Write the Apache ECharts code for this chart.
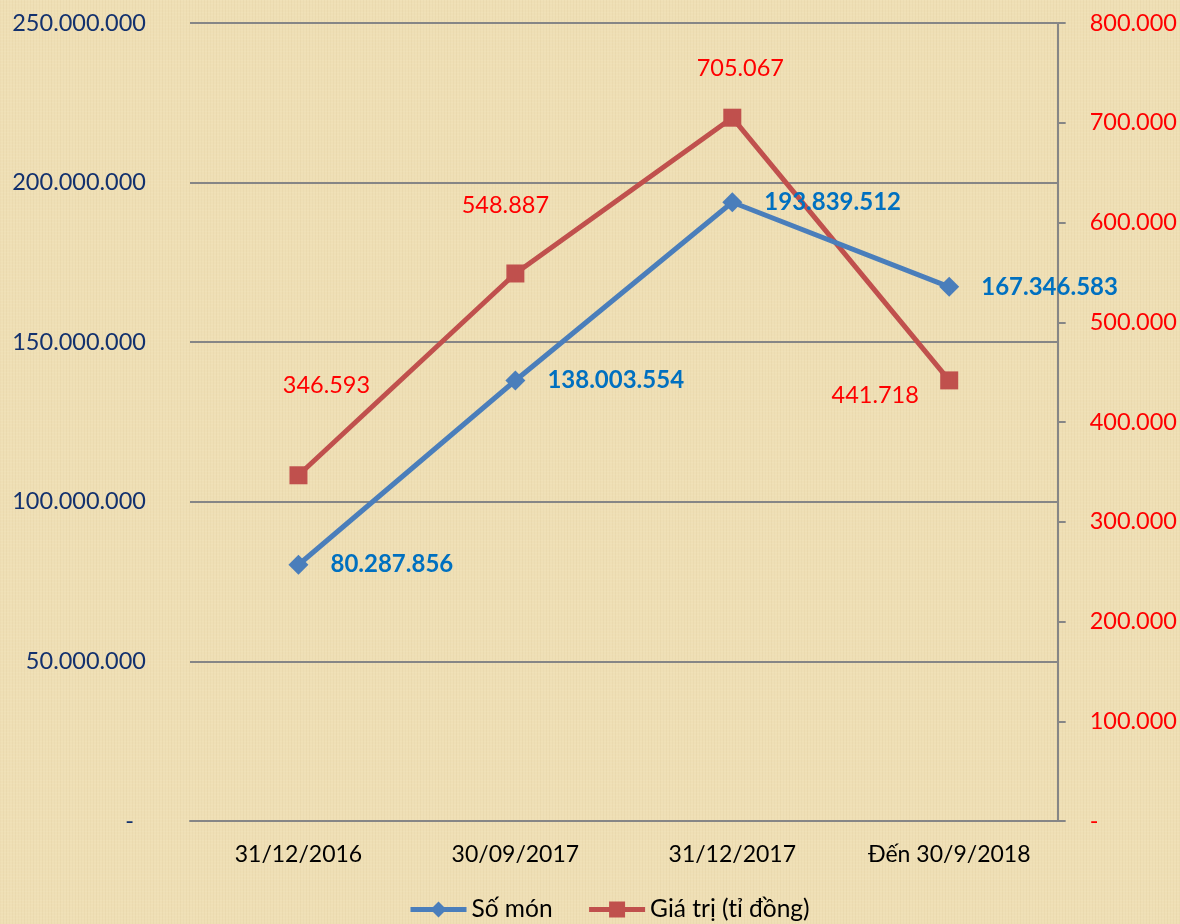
<!DOCTYPE html>
<html>
<head>
<meta charset="utf-8">
<script src="https://cdn.jsdelivr.net/npm/echarts@6/dist/echarts.min.js"></script>
<style>
  html, body { margin: 0; padding: 0; background: #efdfb5; }
  #chart { width: 1180px; height: 924px; }
</style>
</head>
<body>
<div id="chart"></div>
<script>
// data
const categories = ['31/12/2016', '30/09/2017', '31/12/2017', 'Đến 30/9/2018'];
const soMon = [80287856, 138003554, 193839512, 167346583];
const giaTri = [346593, 548887, 705067, 441718];
const seriesNames = ['Số món', 'Giá trị (tỉ đồng)'];

// dot thousands separator, zero shown as dash
const fmt = v => v === 0 ? '-' : String(Math.round(v)).replace(/\B(?=(\d{3})+(?!\d))/g, '.');

const FONT = 'Lato';
// red labels sit in odd places in the original, nudge each one
const redOffsets = [[28, -47], [-10, -25], [8, -6], [-74, 58]];

// faint papyrus-like weave, deterministic
function paperPattern() {
    const c = document.createElement('canvas');
    c.width = 120; c.height = 120;
    const g = c.getContext('2d');
    g.fillStyle = '#efdfb5';
    g.fillRect(0, 0, 120, 120);
    for (let i = 0; i < 120; i += 3) {
        const a = 0.05 + 0.04 * Math.abs(Math.sin(i * 0.7));
        g.fillStyle = 'rgba(190,165,110,' + a.toFixed(3) + ')';
        g.fillRect(i, 0, 1, 120);
        const b = 0.04 + 0.04 * Math.abs(Math.cos(i * 1.3));
        g.fillStyle = 'rgba(255,250,230,' + b.toFixed(3) + ')';
        g.fillRect(0, i, 120, 1);
    }
    return c;
}

const chart = echarts.init(document.getElementById('chart'));
chart.setOption({
    backgroundColor: { image: paperPattern(), repeat: 'repeat' },
    textStyle: { fontFamily: FONT },
    grid: { left: 190, right: 122, top: 23, bottom: 103 },
    legend: {
        bottom: -3,
        left: 403,
        itemWidth: 56,
        itemHeight: 20,
        itemGap: 34,
        lineStyle: { width: 5 },
        textStyle: { fontFamily: FONT, fontSize: 24.5, color: '#000' },
        data: seriesNames
    },
    xAxis: {
        type: 'category',
        data: categories,
        boundaryGap: true,
        axisLine: { lineStyle: { color: '#868686', width: 2 } },
        axisTick: { show: false },
        axisLabel: { fontFamily: FONT, fontSize: 23, color: '#000', margin: 22 }
    },
    yAxis: [
        {
            type: 'value',
            min: 0,
            max: 250000000,
            interval: 50000000,
            axisLine: { show: false },
            axisTick: { show: false },
            splitLine: { lineStyle: { color: '#868686', width: 2 } },
            axisLabel: {
                fontFamily: FONT, fontSize: 23.5, color: '#13316e', margin: 44,
                formatter: v => v === 0 ? '-  ' : fmt(v)
            }
        },
        {
            type: 'value',
            min: 0,
            max: 800000,
            interval: 100000,
            position: 'right',
            axisLine: { show: true, lineStyle: { color: '#868686', width: 2 } },
            axisTick: { show: true, inside: false, length: 8, lineStyle: { color: '#868686', width: 2 } },
            splitLine: { show: false },
            axisLabel: {
                fontFamily: FONT, fontSize: 23.5, color: '#ff0000', margin: 32,
                formatter: fmt
            }
        }
    ],
    series: [
        {
            name: seriesNames[0],
            type: 'line',
            yAxisIndex: 0,
            data: soMon,
            symbol: 'diamond',
            symbolSize: 20,
            color: '#4a7ebb',
            lineStyle: { width: 5, color: '#4a7ebb' },
            itemStyle: { color: '#4a7ebb' },
            label: {
                show: true,
                position: 'right',
                distance: 22,
                fontFamily: FONT,
                fontSize: 24,
                fontWeight: 'bold',
                color: '#0070c0',
                formatter: p => fmt(p.value)
            },
            z: 3
        },
        {
            name: seriesNames[1],
            type: 'line',
            yAxisIndex: 1,
            data: giaTri.map((v, i) => ({
                value: v,
                label: { offset: redOffsets[i] }
            })),
            symbol: 'rect',
            symbolSize: 18,
            color: '#c0504d',
            lineStyle: { width: 5, color: '#c0504d' },
            itemStyle: { color: '#c0504d' },
            label: {
                show: true,
                position: 'top',
                distance: 22,
                fontFamily: FONT,
                fontSize: 23.5,
                color: '#ff0000',
                formatter: p => fmt(p.value)
            },
            z: 2
        }
    ]
});
</script>
</body>
</html>
